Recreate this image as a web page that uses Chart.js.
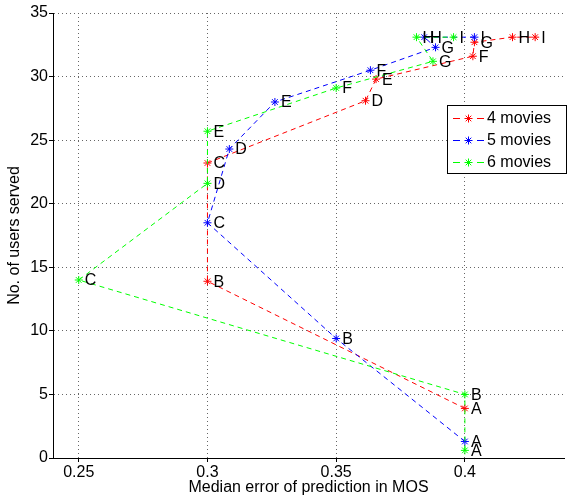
<!DOCTYPE html>
<html>

<head>
    <title>Users served vs prediction error</title>
    <script src="https://cdn.jsdelivr.net/npm/chart.js"></script>
    <style>
        body {
            margin: 0;
            background: #ffffff;
        }

        #chart {
            display: block;
        }
    </style>
</head>

<body>
    <canvas id="chart" width="569" height="499"></canvas>

    <script>
        // point names, same for every series
        var pointLabels = ['A', 'B', 'C', 'D', 'E', 'F', 'G', 'H', 'I'];

        // 4 movies
        var err4 = [0.400, 0.300, 0.300, 0.3614, 0.3655, 0.4031, 0.4037, 0.4185, 0.4273];
        var users4 = [3.9, 13.9, 23.2, 28.1, 29.8, 31.6, 32.7, 33.1, 33.1];

        // 5 movies
        var err5 = [0.400, 0.350, 0.300, 0.3085, 0.3262, 0.3633, 0.3886, 0.3842, 0.4037];
        var users5 = [1.3, 9.4, 18.5, 24.3, 28.0, 30.5, 32.3, 33.1, 33.1];

        // 6 movies
        var err6 = [0.400, 0.400, 0.250, 0.300, 0.300, 0.350, 0.3876, 0.3812, 0.3956];
        var users6 = [0.6, 5.0, 14.0, 21.6, 25.7, 29.1, 31.2, 33.1, 33.1];

        var seriesNames = ['4 movies', '5 movies', '6 movies'];
        var xTicks = [0.25, 0.3, 0.35, 0.4];

        var FONT = 'Helvetica, Arial, "Liberation Sans", sans-serif';

        function toPoints(xs, ys) {
            var pts = [];
            for (var i = 0; i < xs.length; i++) {
                pts.push({ x: xs[i], y: ys[i] });
            }
            return pts;
        }

        function makeSet(name, xs, ys, color, order) {
            return {
                label: name,
                data: toPoints(xs, ys),
                showLine: true,
                borderColor: color,
                backgroundColor: color,
                borderWidth: 1,
                borderDash: [5, 4],
                pointStyle: 'star',
                pointRadius: 4,
                pointBorderWidth: 1,
                pointBorderColor: color,
                order: order
            };
        }

        // letters next to each marker
        var pointLetters = {
            id: 'pointLetters',
            afterDatasetsDraw: function (chart) {
                var ctx = chart.ctx;
                ctx.save();
                ctx.font = '16px ' + FONT;
                ctx.fillStyle = '#000';
                ctx.textBaseline = 'middle';
                ctx.textAlign = 'left';
                chart.data.datasets.forEach(function (ds, di) {
                    var meta = chart.getDatasetMeta(di);
                    meta.data.forEach(function (el, i) {
                        ctx.fillText(pointLabels[i], el.x + 6, el.y + 1);
                    });
                });
                ctx.restore();
            }
        };

        // boxed legend inside the plot, top right
        var boxLegend = {
            id: 'boxLegend',
            afterDraw: function (chart) {
                var ctx = chart.ctx;
                var bx = 447, by = 105, bw = 119, bh = 68;
                ctx.save();
                ctx.fillStyle = '#fff';
                ctx.fillRect(bx, by, bw, bh);
                ctx.strokeStyle = '#000';
                ctx.lineWidth = 1;
                ctx.strokeRect(bx + 0.5, by + 0.5, bw, bh);
                ctx.font = '16px ' + FONT;
                ctx.textBaseline = 'middle';
                chart.data.datasets.forEach(function (ds, i) {
                    var y = by + 13 + i * 22;
                    ctx.strokeStyle = ds.borderColor;
                    ctx.lineWidth = 1;
                    ctx.beginPath();
                    ctx.moveTo(453, y + 0.5); ctx.lineTo(460, y + 0.5);
                    ctx.moveTo(477, y + 0.5); ctx.lineTo(484, y + 0.5);
                    // asterisk marker
                    var cx = 468.5, r = 4;
                    ctx.moveTo(cx - r, y + 0.5); ctx.lineTo(cx + r, y + 0.5);
                    ctx.moveTo(cx, y - r + 0.5); ctx.lineTo(cx, y + r + 0.5);
                    ctx.moveTo(cx - r * 0.7, y - r * 0.7 + 0.5); ctx.lineTo(cx + r * 0.7, y + r * 0.7 + 0.5);
                    ctx.moveTo(cx - r * 0.7, y + r * 0.7 + 0.5); ctx.lineTo(cx + r * 0.7, y - r * 0.7 + 0.5);
                    ctx.stroke();
                    ctx.fillStyle = '#000';
                    ctx.fillText(seriesNames[i], 487, y + 1);
                });
                ctx.restore();
            }
        };

        var gridStyle = {
            color: '#666666',
            lineWidth: 1,
            borderDash: [1, 3],
            drawTicks: true,
            tickLength: 4,
            tickColor: '#000',
            tickBorderDash: []
        };

        var ctx = document.getElementById('chart').getContext('2d');
        var chart = new Chart(ctx, {
            type: 'scatter',
            data: {
                datasets: [
                    makeSet(seriesNames[0], err4, users4, '#ff0000', 3),
                    makeSet(seriesNames[1], err5, users5, '#0000ff', 2),
                    makeSet(seriesNames[2], err6, users6, '#00ff00', 1)
                ]
            },
            plugins: [pointLetters, boxLegend],
            options: {
                responsive: false,
                animation: false,
                layout: {
                    padding: { top: 13, right: 0, bottom: 0, left: 0 }
                },
                plugins: {
                    legend: { display: false },
                    tooltip: { enabled: false }
                },
                scales: {
                    x: {
                        type: 'linear',
                        min: 0.24,
                        max: 0.4385,
                        afterBuildTicks: function (scale) {
                            scale.ticks = xTicks.map(function (v) { return { value: v }; });
                        },
                        afterFit: function (scale) {
                            scale.height = 41;
                        },
                        ticks: {
                            color: '#000',
                            padding: 1,
                            maxRotation: 0,
                            font: { size: 16, family: FONT },
                            callback: function (v) { return String(Math.round(v * 100) / 100); }
                        },
                        grid: gridStyle,
                        border: { display: true, color: '#000', width: 1, dash: [1, 3] },
                        title: {
                            display: true,
                            text: 'Median error of prediction in MOS',
                            color: '#000',
                            font: { size: 16, family: FONT },
                            padding: { top: 0, bottom: 2 }
                        }
                    },
                    y: {
                        type: 'linear',
                        min: 0,
                        max: 35,
                        afterFit: function (scale) {
                            scale.width = 53;
                        },
                        ticks: {
                            stepSize: 5,
                            color: '#000',
                            padding: 1,
                            font: { size: 16, family: FONT }
                        },
                        grid: gridStyle,
                        border: { display: true, color: '#000', width: 1, dash: [1, 3] },
                        title: {
                            display: true,
                            text: 'No. of users served',
                            color: '#000',
                            font: { size: 16, family: FONT },
                            padding: { top: 5, bottom: 0 }
                        }
                    }
                }
            }
        });
    </script>
</body>

</html>
